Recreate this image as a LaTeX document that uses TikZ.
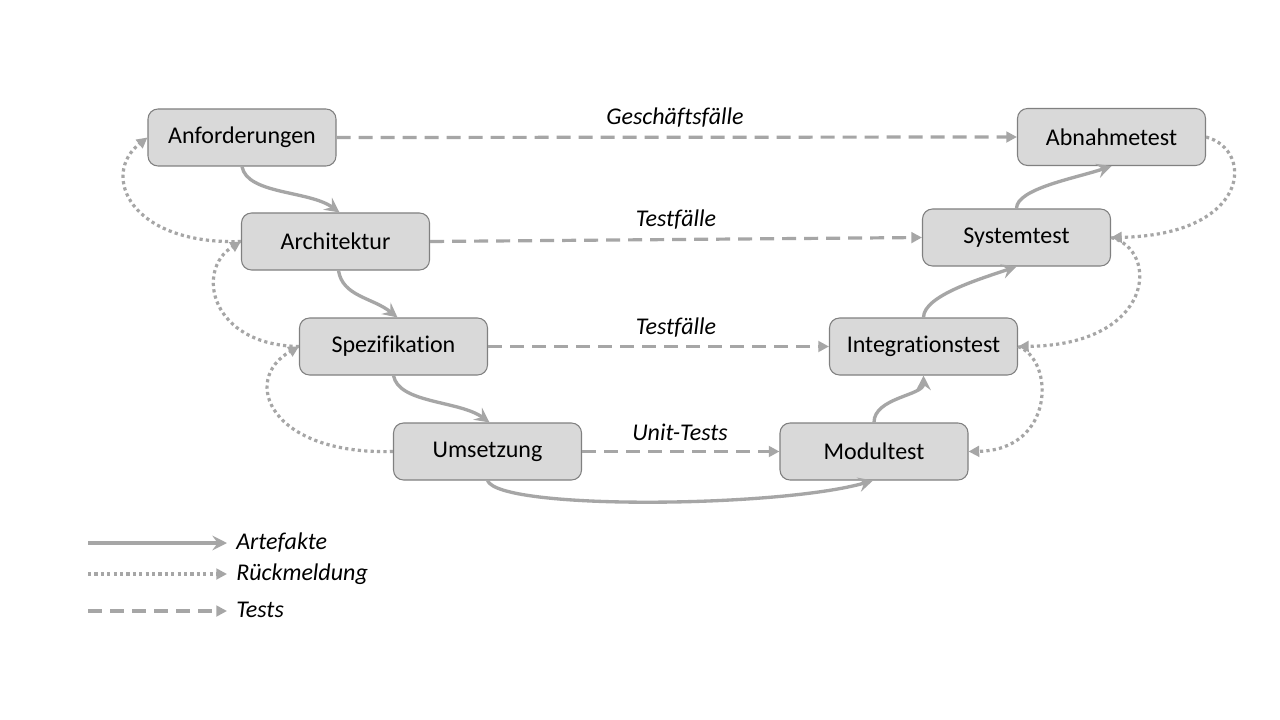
\documentclass[tikz,border=0pt]{standalone}
\usepackage{fontspec}
\setmainfont[Ligatures={NoCommon}]{Carlito}
\usetikzlibrary{arrows.meta,calc}
\definecolor{argray}{HTML}{A6A6A6}
\definecolor{boxfill}{HTML}{D9D9D9}
\definecolor{boxline}{HTML}{808080}
\begin{document}
\begin{tikzpicture}[x=0.75pt,y=-0.75pt,
  box/.style={draw=boxline,line width=0.8pt,fill=boxfill,rounded corners=7.5pt,
    minimum width=141pt,minimum height=42.75pt,inner sep=0pt,font=\fontsize{18pt}{20pt}\selectfont},
  lbl/.style={font=\itshape\fontsize{18pt}{20pt}\selectfont,inner sep=0pt},
  art/.style={draw=argray,line width=2.5pt,-{Stealth[length=11pt,width=11pt,inset=4pt]}},
  fb/.style={draw=argray,line width=2.4pt,line cap=butt,dash pattern=on 2.4pt off 2.4pt,-{Triangle[length=8pt,width=8pt]}},
  tst/.style={draw=argray,line width=2.4pt,line cap=butt,dash pattern=on 10.5pt off 6pt,-{Triangle[length=8pt,width=8pt]}}
]
\useasboundingbox (0,0) rectangle (1280,720);
\fill[white] (0,0) rectangle (1280,720);

\node[box] (anf) at (242,137.5) {Anforderungen};
\node[box] (arc) at (335.5,241.5) {Architektur};
\node[box] (spe) at (393.5,346.5) {Spezifikation};
\node[box] (ums) at (487.5,451.5) {Umsetzung};
\node[box] (mod) at (874,451.5) {Modultest};
\node[box] (int) at (923.5,346.5) {Integrationstest};
\node[box] (sys) at (1016.5,237.5) {Systemtest};
\node[box] (abn) at (1111.5,137) {Abnahmetest};

% tests
\draw[tst] (anf.east) -- (abn.west);
\draw[tst] (arc.east) -- (sys.west);
\draw[tst] (spe.east) -- (int.west);
\draw[tst] (ums.east) -- (mod.west);
\node[lbl] (l1) at (675,118) {Geschäftsfälle};
\node[lbl] (l2) at (676,220) {Testfälle};
\node[lbl] (l3) at (676,328) {Testfälle};
\node[lbl] (l4) at (680,432) {Unit-Tests};

% artefacts
\draw[art] (anf.south) .. controls +(5,28) and +(-30,-22) .. ($(arc.north)+(4,0)$);
\draw[art] ($(arc.south)+(3,0)$) .. controls +(4,26) and +(-25,-20) .. ($(spe.north)+(4,0)$);
\draw[art] (spe.south) .. controls +(5,28) and +(-30,-22) .. ($(ums.north)+(2,0)$);
\draw[art] (ums.south) .. controls +(12,30) and +(-93,27) .. ($(mod.south)+(-1,0)$);
\draw[art] (mod.north) .. controls +(0,-25) and +(0,20) .. (int.south);
\draw[art] (int.north) .. controls +(0,-22) and +(-35,12) .. (sys.south);
\draw[art] (sys.north) .. controls +(0,-20) and +(-35,12) .. (abn.south);

% feedback
\draw[fb] (arc.west) .. controls (130,245) and (100,175) .. (anf.west);
\draw[fb] (spe.west) .. controls (210,345) and (195,270) .. (arc.west);
\draw[fb] (ums.west) .. controls (270,455) and (240,380) .. (spe.west);
\draw[fb] (abn.east) .. controls (1255,150) and (1250,235) .. (sys.east);
\draw[fb] (sys.east) .. controls (1160,250) and (1155,345) .. (int.east);
\draw[fb] (int.east) .. controls (1055,360) and (1055,450) .. (mod.east);

% legend
\coordinate (a1) at (88,543); \coordinate (a2) at (227,543);
\coordinate (b1) at (88,574); \coordinate (b2) at (227,574);
\coordinate (c1) at (88,611); \coordinate (c2) at (227,611);
\draw[art] (a1) -- (a2);
\draw[fb] (b1) -- (b2);
\draw[tst] (c1) -- (c2);
\node[lbl,anchor=west] (la) at (236,543) {Artefakte};
\node[lbl,anchor=west] (lb) at (236,574) {Rückmeldung};
\node[lbl,anchor=west] (lc) at (236,610) {Tests};
\end{tikzpicture}
\end{document}
